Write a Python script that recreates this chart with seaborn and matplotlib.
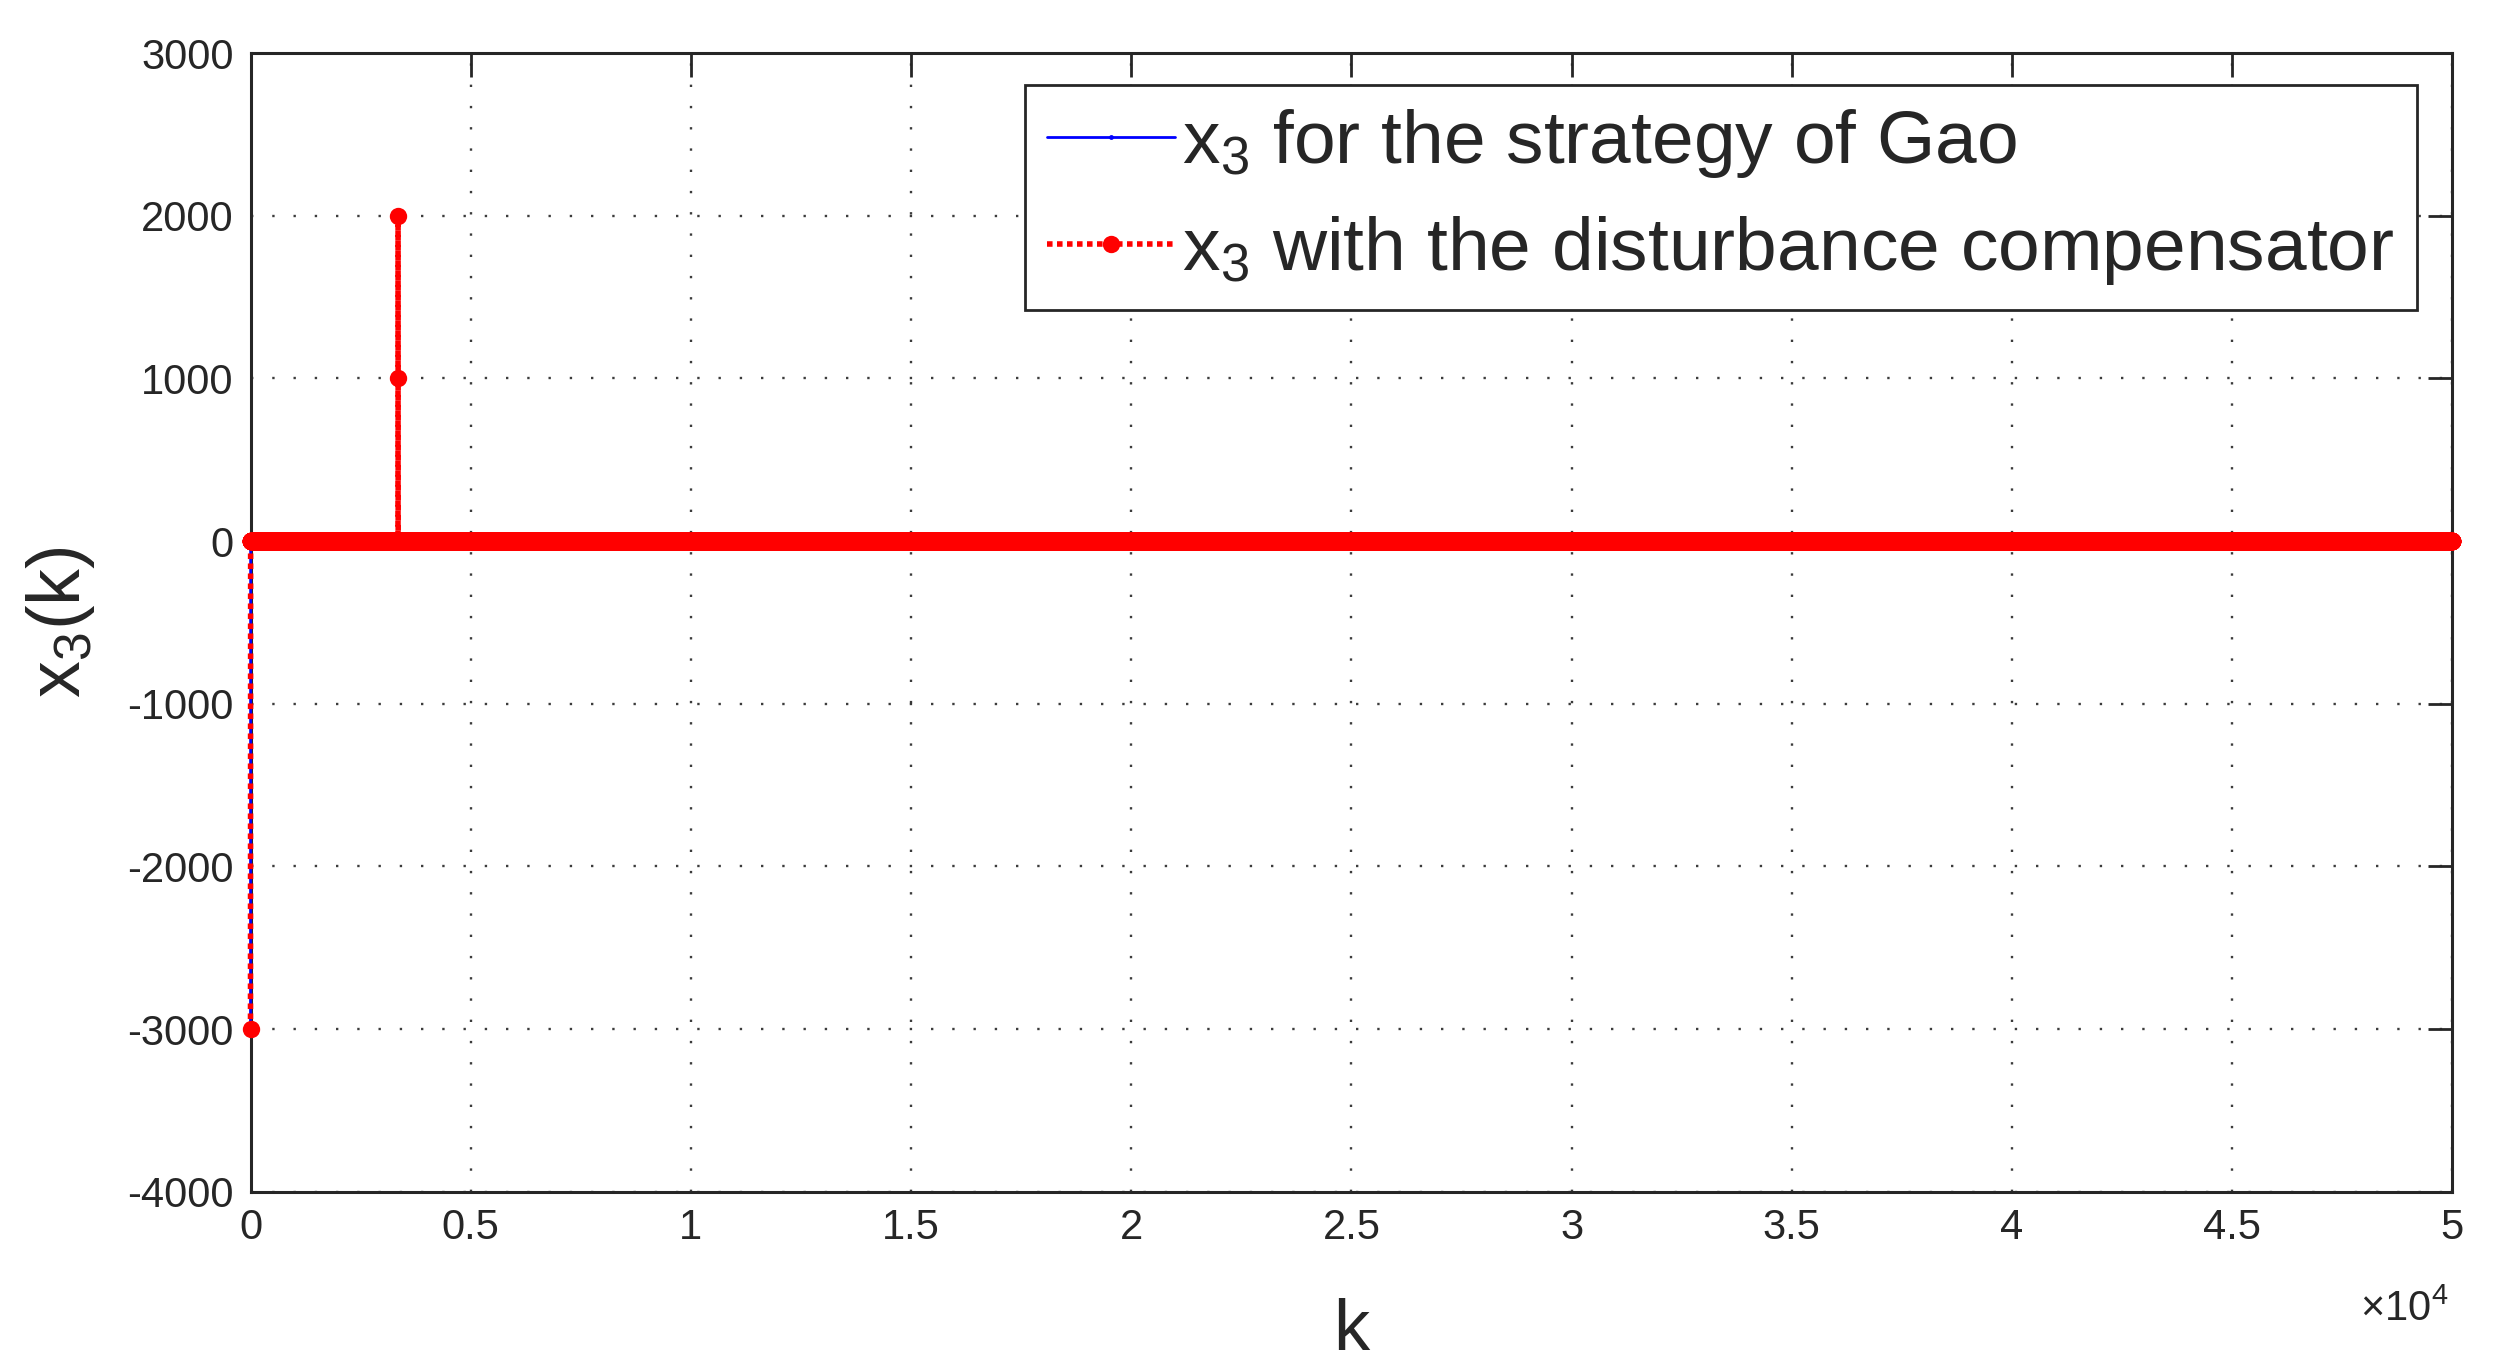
import matplotlib
matplotlib.use("Agg")
import matplotlib.pyplot as plt
import matplotlib.ticker as mticker
import numpy as np
import pandas as pd
import seaborn as sns

# --------------------
# data
# --------------------
k_last = 50000                      # last sample index
# x3 is 0 at every sample except these ones
gao_spike_k = [0]
gao_spike_x3 = [-3000]
comp_spike_k = [0, 3350, 3351]
comp_spike_x3 = [-3000, 1000, 2000]

x_ticks = [0, 5000, 10000, 15000, 20000, 25000, 30000, 35000, 40000, 45000, 50000]
y_ticks = [-4000, -3000, -2000, -1000, 0, 1000, 2000, 3000]

label_gao = 'x$_3$ for the strategy of Gao'
label_comp = 'x$_3$ with the disturbance compensator'


def build_series(spike_k, spike_x3):
    k = np.arange(0, k_last + 1)
    x3 = np.zeros(k.shape[0])
    x3[spike_k] = spike_x3
    return pd.DataFrame({'k': k, 'x3': x3})


df_gao = build_series(gao_spike_k, gao_spike_x3)
df_comp = build_series(comp_spike_k, comp_spike_x3)

sns.set_style('white')
plt.rcParams['font.family'] = ['Liberation Sans', 'DejaVu Sans']
plt.rcParams['mathtext.fontset'] = 'custom'
plt.rcParams['mathtext.rm'] = 'Liberation Sans'
plt.rcParams['mathtext.it'] = 'Liberation Sans'

fig, ax = plt.subplots(figsize=(25.05, 13.61), dpi=100)
fig.subplots_adjust(left=0.100, right=0.979, top=0.961, bottom=0.1244)

sns.lineplot(data=df_gao, x='k', y='x3', ax=ax, color='#0000ff', linewidth=2,
             marker='.', markersize=7, markeredgewidth=0, estimator=None, sort=False,
             label=label_gao, clip_on=False, zorder=5)
sns.lineplot(data=df_comp, x='k', y='x3', ax=ax, color='#ff0000', linewidth=4,
             linestyle=(0, (1, 0.8)), marker='o', markersize=12.5, markeredgewidth=0,
             estimator=None, sort=False, label=label_comp, clip_on=False, zorder=6)

ax.set_xlim(0, k_last)
ax.set_ylim(-4000, 3000)
ax.set_xticks(x_ticks)
ax.set_yticks(y_ticks)
ax.xaxis.set_major_formatter(mticker.FuncFormatter(lambda v, p: f"{v / 1e4:g}"))
ax.yaxis.set_major_formatter(mticker.FuncFormatter(lambda v, p: f"{v:g}"))
ax.tick_params(axis='both', direction='in', length=17, width=2, color='#262626',
               labelsize=30, labelcolor='#262626', top=True, right=True, pad=12)
ax.grid(True, color='#262626', linestyle=(0, (1, 8)), linewidth=1.7, alpha=0.9)
for s in ax.spines.values():
    s.set_color('#262626')
    s.set_linewidth(2.2)

ax.set_xlabel('k', fontsize=52, color='#262626', labelpad=36)
ax.set_ylabel('x$_3$(k)', fontsize=53, color='#262626', labelpad=22)
ax.text(0.978, -0.104, r'$\times$10$^{4}$', transform=ax.transAxes, fontsize=30,
        color='#262626', ha='center', va='center')

leg = ax.legend(loc='upper right', bbox_to_anchor=(0.984, 0.972), borderaxespad=0,
                fontsize=54, frameon=True, fancybox=False, framealpha=1,
                edgecolor='#262626', handlelength=1.7, handletextpad=0.1,
                borderpad=0.3, labelspacing=0.45)
leg.get_frame().set_linewidth(2)
leg.set_zorder(10)

fig.savefig('out.png', dpi=100)
